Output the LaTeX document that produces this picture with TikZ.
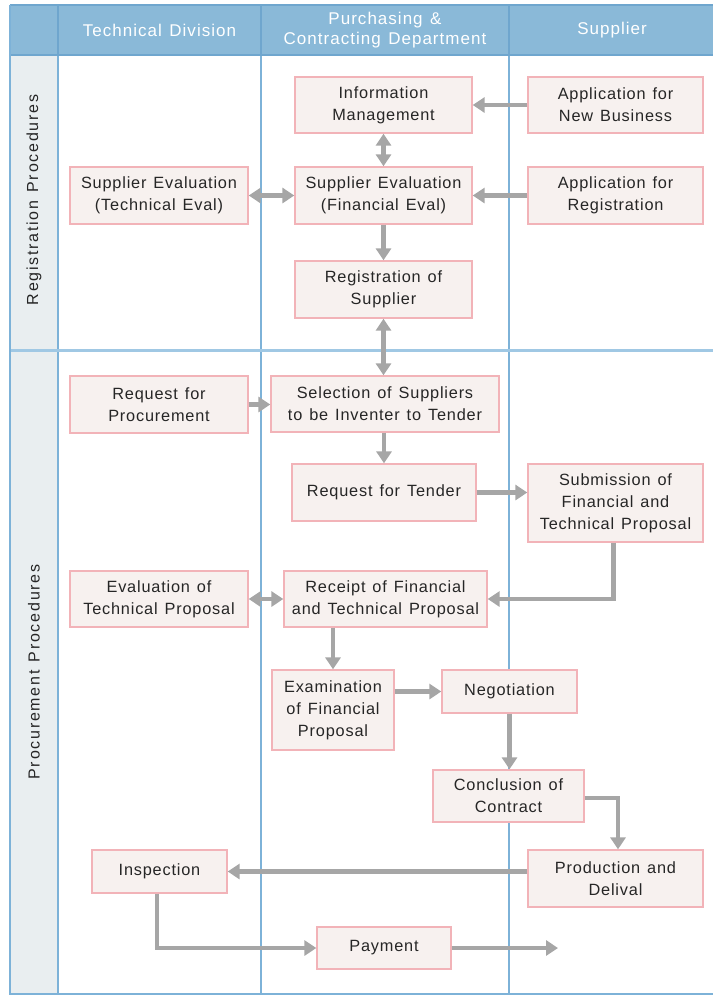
\documentclass[tikz,border=0pt]{standalone}
\usepackage{fontspec}
\setmainfont{Liberation Sans}[LetterSpace=5,WordSpace=1.3]
\newfontfamily\hdrfont{Liberation Sans}[LetterSpace=6,WordSpace=1.3]
\newfontfamily\rowfont{Liberation Sans}[LetterSpace=11,WordSpace=1.3]
\usetikzlibrary{arrows.meta,calc}
\definecolor{hdrfill}{HTML}{8AB9D8}
\definecolor{hdrline}{HTML}{6FA6CE}
\definecolor{gridline}{HTML}{7DB2D8}
\definecolor{rowline}{HTML}{A0C8E4}
\definecolor{labfill}{HTML}{E9EEF0}
\definecolor{boxfill}{HTML}{F7F1EF}
\definecolor{boxline}{HTML}{F2B3B8}
\definecolor{arrcol}{HTML}{A6A6A6}
\definecolor{txt}{HTML}{262626}
\tikzset{
  box/.style={draw=boxline, fill=boxfill, line width=1.3pt, align=center, inner sep=0pt,
    text=txt, font=\fontsize{16.3}{22}\selectfont},
  arr/.style={draw=arrcol, line width=4.5pt, -{Triangle[length=12pt,width=15pt]}},
  darr/.style={draw=arrcol, line width=4.5pt, {Triangle[length=12pt,width=15pt]}-{Triangle[length=12pt,width=15pt]}},
  hdr/.style={text=white, align=center, font=\hdrfont\fontsize{17}{20}\selectfont},
  rowlab/.style={rotate=90, text=txt, font=\rowfont\fontsize{16}{20}\selectfont}
}
\begin{document}
\begin{tikzpicture}[x=1pt,y=-1pt]
\useasboundingbox (0,0) rectangle (713,996);
% backgrounds
\fill[labfill] (10,55) rectangle (58,994);
\fill[hdrfill] (10,5) rectangle (713,55);
% grid
\draw[gridline, line width=1.3pt] (58,55) -- (58,994);
\draw[gridline, line width=1.3pt] (261,55) -- (261,994);
\draw[gridline, line width=1.3pt] (509,55) -- (509,994);
\draw[rowline, line width=3pt] (10,350) -- (713,350);
\draw[hdrline, line width=1.5pt] (10,5) -- (713,5);
\draw[hdrline, line width=1.5pt] (10,55) -- (713,55);
\draw[hdrline, line width=1.2pt] (58,5) -- (58,55);
\draw[hdrline, line width=1.2pt] (261,5) -- (261,55);
\draw[hdrline, line width=1.2pt] (509,5) -- (509,55);
\draw[gridline, line width=1.5pt] (10,5) -- (10,994) -- (713,994);
% headers
\node[hdr] (h1) at (159.5,30) {Technical Division};
\node[hdr] (h2) at (385,30) {Purchasing \&\\Contracting Department};
\node[hdr] (h3) at (612,30) {Supplier};
\node[rowlab] (r1) at (34,200) {Registration Procedures};
\node[rowlab] (r2) at (34,672) {Procurement Procedures};
% boxes
\node[box, minimum width=177pt, minimum height=56pt] (info) at (383.5,105) {Information\\Management};
\node[box, minimum width=175pt, minimum height=56pt] (appnew) at (615.5,105) {Application for\\New Business};
\node[box, minimum width=178pt, minimum height=57pt] (techeval) at (159,195.5) {Supplier Evaluation\\(Technical Eval)};
\node[box, minimum width=177pt, minimum height=57pt] (fineval) at (383.5,195.5) {Supplier Evaluation\\(Financial Eval)};
\node[box, minimum width=175pt, minimum height=57pt] (appreg) at (615.5,195.5) {Application for\\Registration};
\node[box, minimum width=177pt, minimum height=57pt] (reg) at (383.5,289.5) {Registration of\\Supplier};
\node[box, minimum width=178pt, minimum height=57pt] (reqproc) at (159,404.5) {Request for\\Procurement};
\node[box, minimum width=228pt, minimum height=56pt] (select) at (385,404) {Selection of Suppliers\\to be Inventer to Tender};
\node[box, minimum width=184pt, minimum height=57pt] (tender) at (384,492.5) {Request for Tender};
\node[box, minimum width=175pt, minimum height=78pt] (submit) at (615.5,503) {Submission of\\Financial and\\Technical Proposal};
\node[box, minimum width=178pt, minimum height=56pt] (evaltech) at (159,599) {Evaluation of\\Technical Proposal};
\node[box, minimum width=203pt, minimum height=56pt] (receipt) at (385.5,599) {Receipt of Financial\\and Technical Proposal};
\node[box, minimum width=122pt, minimum height=80pt] (exam) at (333,710) {Examination\\of Financial\\Proposal};
\node[box, minimum width=135pt, minimum height=43pt] (nego) at (509.5,691.5) {Negotiation};
\node[box, minimum width=151pt, minimum height=52pt] (concl) at (508.5,796) {Conclusion of\\Contract};
\node[box, minimum width=175pt, minimum height=57pt] (prod) at (615.5,878.5) {Production and\\Delival};
\node[box, minimum width=135pt, minimum height=43pt] (insp) at (159.5,871.5) {Inspection};
\node[box, minimum width=134pt, minimum height=42pt] (pay) at (384,948) {Payment};
\coordinate (payend) at (558,948);
% connectors
\draw[arr] (appnew.west) -- (info.east);
\draw[darr] (info.south) -- (fineval.north);
\draw[darr] (techeval.east) -- (fineval.west);
\draw[arr] (appreg.west) -- (fineval.east);
\draw[arr] (fineval.south) -- (reg.north);
\draw[darr] (reg.south) -- (reg.south |- select.north);
\draw[arr] (reqproc.east) -- (reqproc.east -| select.west);
\draw[arr] (select.south -| tender.north) -- (tender.north);
\draw[arr] (tender.east) -- (tender.east -| submit.west);
\draw[arr] ([xshift=-2pt]submit.south) |- (receipt.east);
\draw[darr] (evaltech.east) -- (receipt.west);
\draw[arr] (receipt.south -| exam.north) -- (exam.north);
\draw[arr] (exam.east |- nego.west) -- (nego.west);
\draw[arr] (nego.south) -- (nego.south |- concl.north);
\draw[arr] ([yshift=-2pt]concl.east) -| ([xshift=2.5pt]prod.north);
\draw[arr] (prod.west |- insp.east) -- (insp.east);
\draw[arr] ([xshift=-2.5pt]insp.south) |- (pay.west);
\draw[arr] (pay.east) -- (payend);
\end{tikzpicture}
\end{document}
